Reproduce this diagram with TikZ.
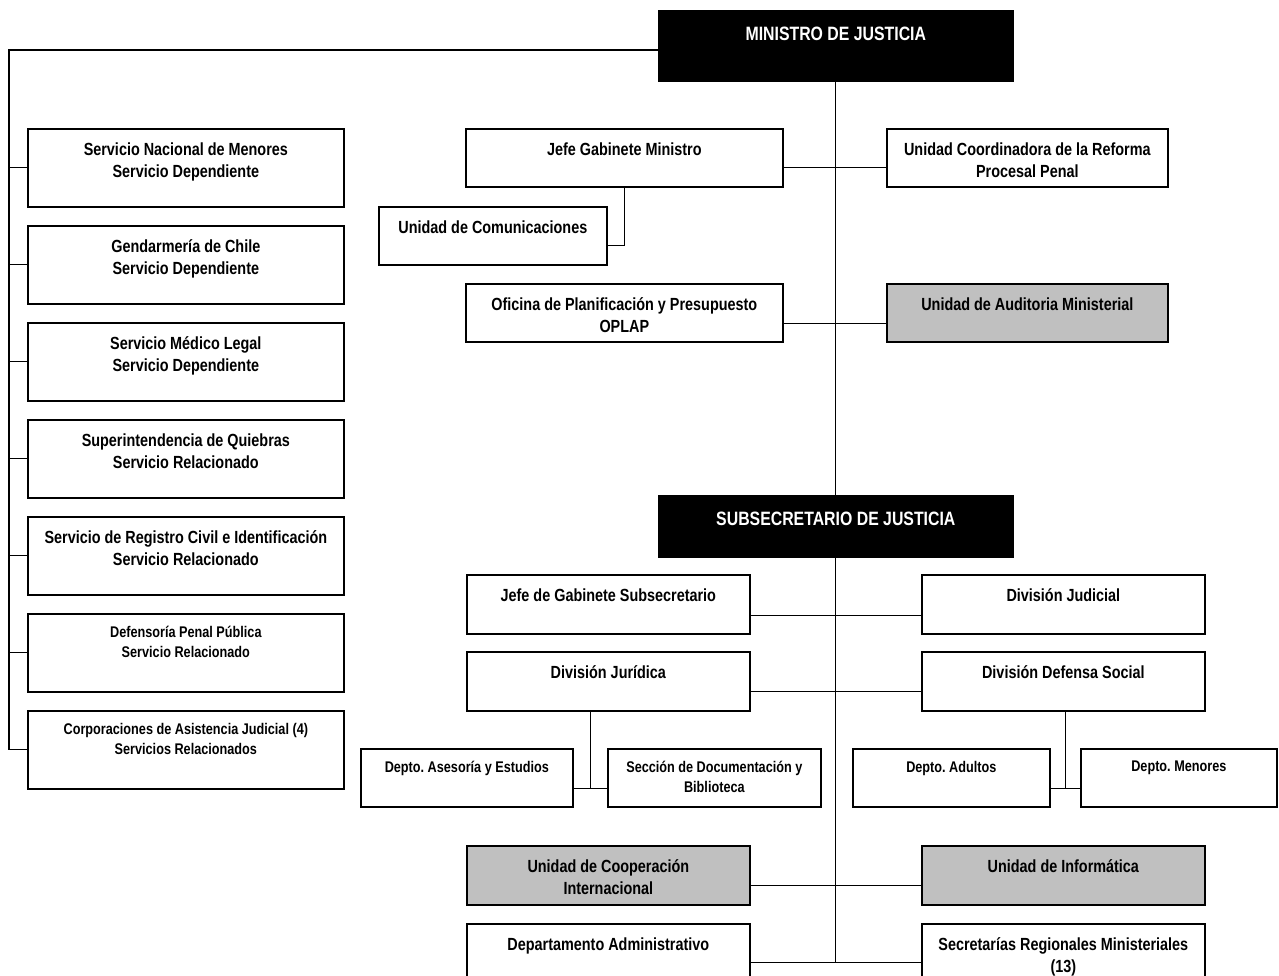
\documentclass[tikz,border=0pt]{standalone}
\usepackage{fontspec}
\setmainfont{Liberation Sans}[FakeStretch=0.82]
\usetikzlibrary{calc}
\definecolor{auditgray}{RGB}{192,192,192}
\frenchspacing

\begin{document}
\begin{tikzpicture}[
        x = 0.02cm, y = -0.02cm, % one unit = one pixel of the chart
        line width = 0.7pt, % connector style
        tag/.style = {align = center, anchor = north, inner sep = 0pt},
        says/.style = {label = {[tag, font = \bfseries\fontsize{10}{12.5}\selectfont,
            yshift = -7.9pt]north:#1}},
        small/.style = {label = {[tag, font = \bfseries\fontsize{8.8}{11.3}\selectfont,
            yshift = -7.2pt]north:#1}},
        unit/.style = {draw, line width = 1pt, fill = white, anchor = north west,
            inner sep = 0pt, minimum height = 1.16cm},
        side/.style = {unit, minimum width = 6.32cm, minimum height = 1.56cm},
        half/.style = {unit, minimum width = 5.66cm, minimum height = 1.18cm},
        grey/.style = {fill = auditgray},
        boss/.style = {unit, fill = black, minimum width = 7.08cm,
            label = {[tag, text = white, font = \bfseries\fontsize{11}{13}\selectfont,
            yshift = -9.2pt]north:#1}}
    ]

    \useasboundingbox (0,0) rectangle (1279,975);
    \clip (0,0) rectangle (1279,975);

    % heads
    \node[boss = {MINISTRO DE JUSTICIA}, minimum height = 1.4cm] (min) at (658,10) {};
    \node[boss = {SUBSECRETARIO DE JUSTICIA}, minimum height = 1.22cm] (sub) at (658,495) {};

    % services on the left
    \node[side, says = {Servicio Nacional de Menores\\Servicio Dependiente}] (snm) at (27,128) {};
    \node[side, says = {Gendarmería de Chile\\Servicio Dependiente}] (gch) at (27,225) {};
    \node[side, says = {Servicio Médico Legal\\Servicio Dependiente}] (sml) at (27,322) {};
    \node[side, says = {Superintendencia de Quiebras\\Servicio Relacionado}] (sqb) at (27,419) {};
    \node[side, says = {Servicio de Registro Civil e Identificación\\Servicio Relacionado}] (src) at (27,516) {};
    \node[side, small = {Defensoría Penal Pública\\Servicio Relacionado}] (dpp) at (27,613) {};
    \node[side, small = {Corporaciones de Asistencia Judicial (4)\\Servicios Relacionados}] (caj) at (27,710) {};

    % minister's units
    \node[unit, minimum width = 6.34cm, says = {Jefe Gabinete Ministro}] (jgm) at (465,128) {};
    \node[unit, minimum width = 5.62cm, says = {Unidad Coordinadora de la Reforma\\Procesal Penal}] (urp) at (886,128) {};
    \node[unit, minimum width = 4.56cm, says = {Unidad de Comunicaciones}] (ucom) at (378,206) {};
    \node[unit, minimum width = 6.34cm, says = {Oficina de Planificación y Presupuesto\\OPLAP}] (opl) at (465,283) {};
    \node[unit, grey, minimum width = 5.62cm, says = {Unidad de Auditoria Ministerial}] (aud) at (886,283) {};

    % undersecretary's units
    \node[half, says = {Jefe de Gabinete Subsecretario}] (jgs) at (466,574) {};
    \node[half, says = {División Judicial}] (djud) at (921,574) {};
    \node[half, says = {División Jurídica}] (djur) at (466,651) {};
    \node[half, says = {División Defensa Social}] (dds) at (921,651) {};
    \node[unit, minimum width = 4.24cm, small = {Depto. Asesoría y Estudios}] (dae) at (360,748) {};
    \node[unit, minimum width = 4.26cm, small = {Sección de Documentación y\\Biblioteca}] (sdb) at (607,748) {};
    \node[unit, minimum width = 3.94cm, small = {Depto. Adultos}] (dadu) at (852,748) {};
    \node[unit, minimum width = 3.92cm, small = {Depto. Menores}] (dmen) at (1080,748) {};
    \node[half, grey, says = {Unidad de Cooperación\\Internacional}] (ucoop) at (466,845) {};
    \node[half, grey, says = {Unidad de Informática}] (uinf) at (921,845) {};
    \node[half, says = {Departamento Administrativo}] (dad) at (466,923) {};
    \node[half, says = {Secretarías Regionales Ministeriales\\(13)}] (srm) at (921,923) {};

    % trunk
    \coordinate (foot) at ([yshift=.42cm]dad.south east);
    \draw (min.south) -- (sub.north);
    \draw (sub.south) -- (sub.south |- foot);

    % left bus
    \coordinate (bus) at (9,50);
    \draw (min.west |- bus) -| (bus |- caj.west) -- (caj.west);
    \foreach \n in {snm, gch, sml, sqb, src, dpp}
        \draw (bus |- \n.west) -- (\n.west);

    % links across the trunk
    \draw ([yshift=.4cm]jgm.south east) -- ([yshift=.4cm]urp.south west);
    \draw ([yshift=.38cm]opl.south east) -- ([yshift=.38cm]aud.south west);
    \draw ([yshift=.38cm]jgs.south east) -- ([yshift=.38cm]djud.south west);
    \draw ([yshift=.4cm]djur.south east) -- ([yshift=.4cm]dds.south west);
    \draw ([yshift=.4cm]ucoop.south east) -- ([yshift=.4cm]uinf.south west);
    \draw (foot) -- (foot -| srm.west);
    \draw (jgm.south) |- ([yshift=.4cm]ucom.south east);

    % departments
    \coordinate (jx) at ($(dae.east)!.5!(sdb.west)$);
    \coordinate (sx) at ($(dadu.east)!.5!(dmen.west)$);
    \draw (djur.south -| jx) |- ([yshift=.38cm]sdb.south west);
    \draw ([yshift=.38cm]dae.south east) -- ([yshift=.38cm]sdb.south west);
    \draw (dds.south -| sx) |- ([yshift=.38cm]dmen.south west);
    \draw ([yshift=.38cm]dadu.south east) -- ([yshift=.38cm]dmen.south west);
\end{tikzpicture}
\end{document}
